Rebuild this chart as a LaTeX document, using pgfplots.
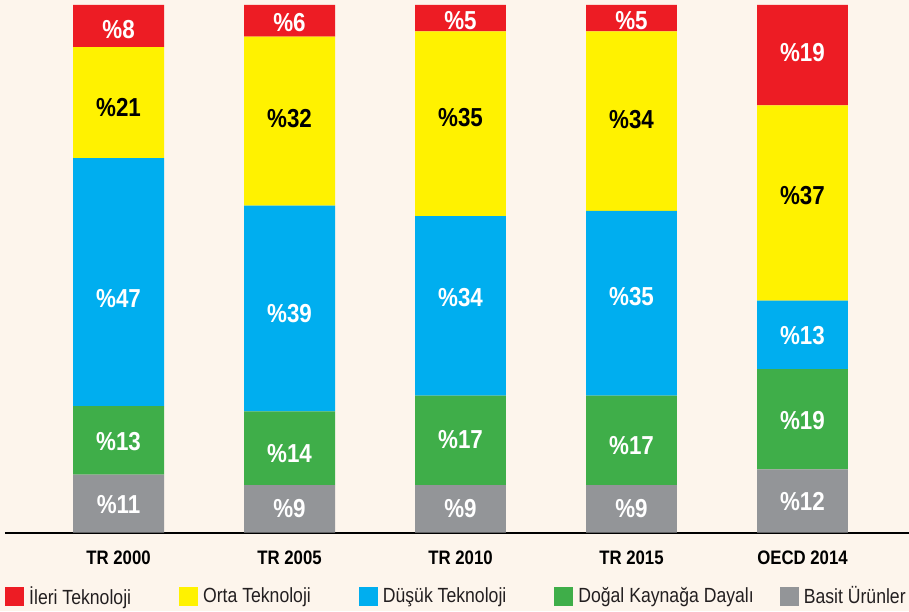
\documentclass[border=0pt]{standalone}
\usepackage{pgfplots}
\pgfplotsset{compat=1.18}
\usepackage{fontspec}
\setmainfont{Liberation Sans}[FakeStretch=0.86]

\definecolor{bg}{HTML}{FDF5EC}
\definecolor{cred}{HTML}{ED1C24}
\definecolor{cyellow}{HTML}{FFF200}
\definecolor{cblue}{HTML}{00AEEF}
\definecolor{cgreen}{HTML}{3FAE49}
\definecolor{cgray}{HTML}{939598}
\definecolor{txt}{HTML}{231F20}

\pgfplotsset{
  sq/.style={legend image code/.code={\fill[##1] (0pt,-9.5pt) rectangle (19pt,9.5pt);}},
  geom/.style={
    at={(5pt,78.3pt)}, anchor=south west,
    width=904pt, height=527.7pt, scale only axis,
    xmin=-0.664, xmax=4.623, ymin=0, ymax=100,
    enlargelimits=false, clip=false,
  },
}

\begin{document}
\begin{tikzpicture}[x=1pt,y=1pt]
\path[use as bounding box, fill=bg] (0,0) rectangle (909,611);
\begin{axis}[
  geom,
  ybar stacked, bar width=0.532,
  axis x line=bottom, axis y line=none,
  x axis line style={-, line width=2pt, black},
  xtick={0,1,2,3,4},
  xticklabels={TR 2000,TR 2005,TR 2010,TR 2015,OECD 2014},
  major tick length=0pt,
  xticklabel style={inner sep=0pt, yshift=-18pt, font=\bfseries\fontsize{19.5}{19.5}\selectfont, text=black},
  ytick=\empty,
  reverse legend,
  legend columns=5,
  legend style={at={(0,-0.12)}, anchor=west, draw=none, fill=none, inner sep=0pt,
    nodes={inner sep=0pt, font=\fontsize{20.5}{20.5}\selectfont, text=txt},
    /tikz/every odd column/.append style={column sep=5pt},
    /tikz/column 2/.style={column sep=48pt},
    /tikz/column 4/.style={column sep=48pt},
    /tikz/column 6/.style={column sep=48pt},
    /tikz/column 8/.style={column sep=26pt}},
]
\addplot[fill=cgray, draw=none, sq] coordinates {(0,11) (1,9) (2,9) (3,9) (4,12)};
\addlegendentry{Basit Ürünler}
\addplot[fill=cgreen, draw=none, sq] coordinates {(0,13) (1,14) (2,17) (3,17) (4,19)};
\addlegendentry{Doğal Kaynağa Dayalı}
\addplot[fill=cblue, draw=none, sq] coordinates {(0,47) (1,39) (2,34) (3,35) (4,13)};
\addlegendentry{Düşük Teknoloji}
\addplot[fill=cyellow, draw=none, sq] coordinates {(0,21) (1,32) (2,35) (3,34) (4,37)};
\addlegendentry{Orta Teknoloji}
\addplot[fill=cred, draw=none, sq] coordinates {(0,8) (1,6) (2,5) (3,5) (4,19)};
\addlegendentry{İleri Teknoloji}
\end{axis}

\begin{axis}[geom, hide axis]
\addplot[only marks, mark=none, nodes near coords={\%\pgfplotspointmeta}, point meta=explicit symbolic,
  every node near coord/.append style={anchor=center, inner sep=0pt, text=white, font=\bfseries\fontsize{26}{26}\selectfont}]
  table[meta=l] {
x y l
0 95.3 8
0 44.4 47
0 17.2 13
0 5.3 11
1 96.6 6
1 41.6 39
1 15.0 14
1 4.5 9
2 97.0 5
2 44.5 34
2 17.6 17
2 4.5 9
3 97.0 5
3 44.7 35
3 16.6 17
3 4.5 9
4 90.9 19
4 37.3 13
4 21.2 19
4 6.0 12
};
\addplot[only marks, mark=none, nodes near coords={\%\pgfplotspointmeta}, point meta=explicit symbolic,
  every node near coord/.append style={anchor=center, inner sep=0pt, text=black, font=\bfseries\fontsize{26}{26}\selectfont}]
  table[meta=l] {
x y l
0 80.5 21
1 78.4 32
2 78.6 35
3 78.2 34
4 63.8 37
};
\end{axis}
\end{tikzpicture}
\end{document}
